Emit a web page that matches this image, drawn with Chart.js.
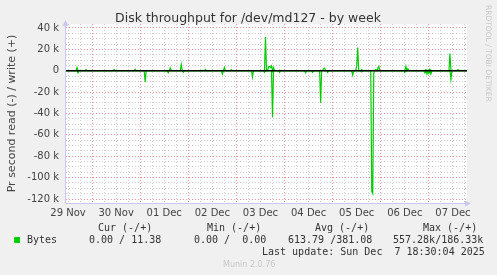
<!DOCTYPE html>
<html>
<head>
<meta charset="utf-8">
<script src="https://cdn.jsdelivr.net/npm/chart.js@4.4.1/dist/chart.umd.min.js"></script>
<style>
  html, body { margin: 0; padding: 0; background: #f0f0f0; }
  #wrap { width: 497px; height: 275px; }
</style>
</head>
<body>
<div id="wrap"><canvas id="disk-week"></canvas></div>
<script>
// hours relative to 30 Nov 00:00, one sample per 30 min
const dayLabels = ['29 Nov', '30 Nov', '01 Dec', '02 Dec', '03 Dec', '04 Dec', '05 Dec', '06 Dec', '07 Dec'];
const xTicks = [];
for (let h = -12; h <= 186; h += 6) xTicks.push(h);
const yTicks = [];
for (let v = -120000; v <= 40000; v += 5000) yTicks.push(v);

// write (+) spikes, bytes/s
const writeHours = [-7.5, -3, 11, 21.5, 39, 44.5, 56.5, 66, 69.5, 86.5, 88, 88.5, 89, 89.5, 90.5, 93.5, 115.5, 116, 132, 132.5, 134.5, 141.5, 142.5, 143, 156.5, 157.5, 166.5, 168.5, 178.5, 182.5];
const writeValues = [3000, 1000, 1000, 1500, 2500, 6000, 1000, 3000, 1000, 31600, 3500, 4000, 3000, 4500, 3000, 500, 2000, 2500, 5000, 21700, 1000, 1000, 2000, 4000, 4000, 2000, 1000, 1500, 16000, 1000];
// read (-) spikes, bytes/s
const readHours = [-7, 26.5, 38, 45.5, 65, 80, 86, 90, 93.5, 106.5, 110, 114, 117.5, 130, 134.5, 139.5, 140, 140.5, 156, 166, 167, 168, 169, 179];
const readValues = [-2000, -10500, -2000, -1500, -3000, -6000, -1500, -43500, -1500, -2000, -1500, -30000, -1500, -4000, -1000, -113000, -115000, -2000, -1500, -2000, -3000, -2500, -3000, -8000];

const xMin = -13, xMax = 187;

// spikes sit on a zero baseline between samples
function spikeSeries(hours, values) {
  const pts = new Map();
  pts.set(xMin, 0);
  hours.forEach((h, i) => {
    if (!pts.has(h - 0.5)) pts.set(h - 0.5, 0);
    pts.set(h, values[i]);
    if (!pts.has(h + 0.5)) pts.set(h + 0.5, 0);
  });
  pts.set(xMax, 0);
  return [...pts.entries()].sort((a, b) => a[0] - b[0]).map(([x, y]) => ({x, y}));
}

const green = '#00cc00';
const major = 'rgba(225,140,140,0.9)';
const minor = 'rgba(200,200,200,0.9)';
const axisBlue = '#c8c8f0';

const munin = {
  id: 'munin',
  beforeDraw(chart) {
    const {ctx, chartArea: a} = chart;
    ctx.save();
    ctx.fillStyle = '#f0f0f0';
    ctx.fillRect(0, 0, chart.width, chart.height);
    ctx.fillStyle = '#ffffff';
    ctx.fillRect(a.left, a.top, a.right - a.left, a.bottom - a.top);
    ctx.restore();
  },
  afterDraw(chart) {
    const {ctx, chartArea: a} = chart;
    ctx.save();
    // solid axes + arrows
    ctx.strokeStyle = axisBlue;
    ctx.lineWidth = 1;
    ctx.beginPath();
    ctx.moveTo(a.left - 0.5, a.top - 2); ctx.lineTo(a.left - 0.5, a.bottom + 0.5); ctx.lineTo(a.right + 2, a.bottom + 0.5);
    ctx.stroke();
    ctx.fillStyle = axisBlue;
    ctx.beginPath();
    ctx.moveTo(a.left - 3.5, a.top + 2); ctx.lineTo(a.left + 2.5, a.top + 2); ctx.lineTo(a.left - 0.5, a.top - 4); ctx.fill();
    ctx.beginPath();
    ctx.moveTo(a.right - 2, a.bottom - 2.5); ctx.lineTo(a.right - 2, a.bottom + 3.5); ctx.lineTo(a.right + 4, a.bottom + 0.5); ctx.fill();

    ctx.fillStyle = '#333';
    ctx.font = '12.5px "DejaVu Sans"';
    ctx.textAlign = 'center';
    ctx.textBaseline = 'middle';
    ctx.fillText('Disk throughput for /dev/md127 - by week', 248, 19);

    ctx.font = '10px "DejaVu Sans Mono"';
    ctx.textAlign = 'left';
    ctx.fillStyle = '#333';
    ctx.fillText('Cur (-/+)', 98, 228);
    ctx.fillText('Min (-/+)', 207, 228);
    ctx.fillText('Avg (-/+)', 315, 228);
    ctx.fillText('Max (-/+)', 423, 228);
    ctx.fillText('Bytes', 27, 240);
    ctx.fillText('0.00 / 11.38', 89, 240);
    ctx.fillText('0.00 /  0.00', 194, 240);
    ctx.fillText('613.79 /381.08', 288, 240);
    ctx.fillText('557.28k/186.33k', 393, 240);
    ctx.fillText('Last update: Sun Dec  7 18:30:04 2025', 262, 252);
    ctx.fillStyle = green;
    ctx.fillRect(14, 237, 6, 6);

    ctx.fillStyle = '#c8c8c8';
    ctx.font = '8px "DejaVu Sans"';
    ctx.fillText('Munin 2.0.76', 223, 265);

    ctx.translate(488, 5);
    ctx.rotate(Math.PI / 2);
    ctx.font = '7.5px "DejaVu Sans"';
    ctx.fillText('RRDTOOL / TOBI OETIKER', 0, 0);
    ctx.restore();
  }
};

const diskCtx = document.getElementById('disk-week').getContext('2d');
const diskChart = new Chart(diskCtx, {
  type: 'line',
  plugins: [munin],
  data: {
    datasets: [
      {
        label: 'zero',
        data: [{x: xMin, y: 0}, {x: xMax, y: 0}],
        borderColor: '#000000',
        borderWidth: 1.6,
        pointRadius: 0,
        order: 0
      },
      {
        label: 'read',
        data: spikeSeries(readHours, readValues),
        borderColor: green,
        borderWidth: 1.2,
        pointRadius: 0,
        tension: 0,
        order: 1
      },
      {
        label: 'write',
        data: spikeSeries(writeHours, writeValues),
        borderColor: green,
        borderWidth: 1.2,
        pointRadius: 0,
        tension: 0,
        order: 1
      }
    ]
  },
  options: {
    responsive: true,
    maintainAspectRatio: false,
    animation: false,
    layout: { padding: { left: 0, top: 24, right: 30, bottom: 56 } },
    plugins: {
      legend: { display: false },
      tooltip: { enabled: false }
    },
    scales: {
      x: {
        type: 'linear',
        min: xMin,
        max: xMax,
        afterBuildTicks: s => { s.ticks = xTicks.map(v => ({value: v})); },
        afterFit: s => { s.height = 16; },
        ticks: {
          autoSkip: false,
          maxRotation: 0,
          padding: 4,
          color: '#444',
          font: { family: 'DejaVu Sans', size: 10 },
          callback: v => (((v % 24) + 24) % 24 === 12 ? dayLabels[(v + 12) / 24] : '')
        },
        grid: {
          drawTicks: false,
          lineWidth: 1,
          color: c => (((c.tick.value % 24) + 24) % 24 === 0 ? major : minor)
        },
        border: { display: false, dash: [1, 2] }
      },
      y: {
        min: -123740,
        max: 43740,
        afterBuildTicks: s => { s.ticks = yTicks.map(v => ({value: v})); },
        afterFit: s => { s.width = 66; },
        ticks: {
          autoSkip: false,
          padding: 7,
          color: '#444',
          font: { family: 'DejaVu Sans', size: 10 },
          callback: v => (v === 0 ? '0' : (v % 20000 === 0 ? (v / 1000) + ' k' : ''))
        },
        grid: {
          drawTicks: false,
          lineWidth: 1,
          color: c => (c.tick.value % 20000 === 0 ? major : minor)
        },
        border: { display: false, dash: [1, 2] },
        title: {
          display: true,
          text: 'Pr second read (-) / write (+)',
          color: '#444',
          font: { family: 'DejaVu Sans', size: 11 },
          padding: { top: 6, bottom: 0 }
        }
      }
    }
  }
});
</script>
</body>
</html>
